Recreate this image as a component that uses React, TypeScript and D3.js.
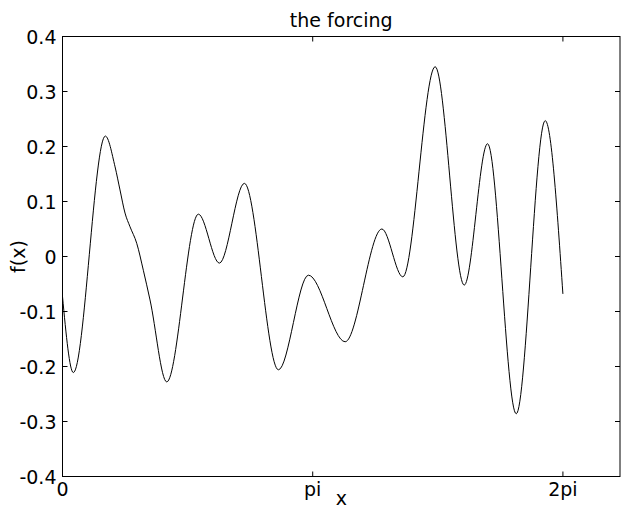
import React from "react";
import * as d3 from "d3";

// forcing curve samples (x in radians, f(x))
const xVals = [0, 0.136, 0.538, 0.660, 0.722, 0.785, 0.848, 0.932, 1.015, 1.099, 1.309, 1.706, 1.970, 2.284, 2.711, 3.088, 3.549, 4.010, 4.273, 4.679, 5.044, 5.337, 5.697, 6.061, 6.283];
const yVals = [-0.073, -0.211, 0.219, 0.163, 0.121, 0.079, 0.054, 0.024, -0.025, -0.079, -0.228, 0.077, -0.012, 0.133, -0.206, -0.034, -0.155, 0.050, -0.037, 0.345, -0.052, 0.205, -0.286, 0.247, -0.068];

const yTicks = [-0.4, -0.3, -0.2, -0.1, 0, 0.1, 0.2, 0.3, 0.4];
const yTickLabels = ["-0.4", "-0.3", "-0.2", "-0.1", "0", "0.1", "0.2", "0.3", "0.4"];
const xTicks = [0, Math.PI, 2 * Math.PI];
const xTickLabels = ["0", "pi", "2pi"];

const W = 622, H = 511;
const left = 62.5, right = 620, top = 36.5, bottom = 476.5;
const FONT = "'DejaVu Sans', sans-serif";
const FS = 19;

export default function App() {
  const x = d3.scaleLinear().domain([0, 7]).range([left, right]);
  const y = d3.scaleLinear().domain([-0.4, 0.4]).range([bottom, top]);
  const pts = xVals.map((v, i) => [v, yVals[i]] as [number, number]);
  const line = d3.line<[number, number]>().x(d => x(d[0])).y(d => y(d[1])).curve(d3.curveMonotoneX);
  const tick = 5;
  return (
    <svg width={W} height={H} style={{ position: "absolute", left: 0, top: 0 }} fontFamily={FONT}>
      <rect x={0} y={0} width={W} height={H} fill="white" />
      <path d={line(pts) || ""} fill="none" stroke="black" strokeWidth={1} />
      <rect x={left} y={top} width={right - left} height={bottom - top} fill="none" stroke="black" strokeWidth={1} />
      {yTicks.map((t, i) => (
        <g key={"y" + i}>
          <line x1={left} x2={left + tick} y1={y(t)} y2={y(t)} stroke="black" />
          <line x1={right} x2={right - tick} y1={y(t)} y2={y(t)} stroke="black" />
          <text x={left - 6} y={y(t)} textAnchor="end" dominantBaseline="central" fontSize={FS}>{yTickLabels[i]}</text>
        </g>
      ))}
      {xTicks.map((t, i) => (
        <g key={"x" + i}>
          <line x1={x(t)} x2={x(t)} y1={bottom} y2={bottom - tick} stroke="black" />
          <line x1={x(t)} x2={x(t)} y1={top} y2={top + tick} stroke="black" />
          <text x={x(t)} y={bottom + 19} textAnchor="middle" fontSize={FS}>{xTickLabels[i]}</text>
        </g>
      ))}
      <text x={(left + right) / 2} y={27} textAnchor="middle" fontSize={FS}>the forcing</text>
      <text x={(left + right) / 2} y={505} textAnchor="middle" fontSize={FS}>x</text>
      <text transform={`translate(25,${(top + bottom) / 2}) rotate(-90)`} textAnchor="middle" fontSize={FS}>f(x)</text>
    </svg>
  );
}
